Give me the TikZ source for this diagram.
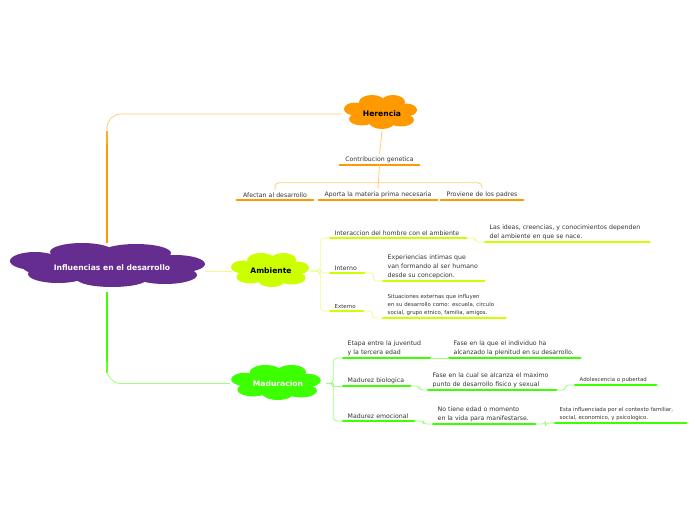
\documentclass[tikz,border=0pt]{standalone}
\usepackage{fontspec}
\setmainfont{DejaVu Sans}
\definecolor{rootcol}{HTML}{662D91}
\definecolor{hercol}{HTML}{FF9900}
\definecolor{herline}{HTML}{FFCC77}
\definecolor{ambcol}{HTML}{CCFF00}
\definecolor{ambline}{HTML}{E8FF8C}
\definecolor{madcol}{HTML}{3CFF00}
\definecolor{madline}{HTML}{9CFF80}
\definecolor{txt}{HTML}{333333}
% flower shaped cloud: center, width, height, colour
\newcommand\puffcloud[4]{%
  \begin{scope}[shift={#1},x=#2pt,y=-#3pt]
    \foreach \px/\py/\rx/\ry in {0/0/0.4/0.32,-0.113/-0.294/0.173/0.206,0.167/-0.294/0.16/0.206,
      -0.34/-0.088/0.147/0.19,0.34/-0.06/0.147/0.19,-0.247/0.206/0.173/0.19,
      0.02/0.294/0.173/0.206,0.273/0.235/0.173/0.19}
      \fill [#4] (\px,\py) ellipse [x radius=\rx,y radius=\ry];
  \end{scope}}
\begin{document}
\begin{tikzpicture}[x=1pt,y=-1pt,line join=bevel,
  bubble/.style={inner sep=0pt,font=\fontsize{7.6}{9}\selectfont\bfseries},
  topic/.style={anchor=south west,align=left,inner xsep=4.5pt,inner ysep=2.5pt,text=txt,
    font=\fontsize{6.2}{9}\selectfont,
    append after command={(\tikzlastnode.south west) edge[line width=2.6pt,line cap=round,draw=#1] (\tikzlastnode.south east)}},
  ctopic/.style={topic=#1,anchor=south,align=center},
  small/.style={font=\fontsize{5.4}{8}\selectfont},
  link/.style={draw=#1,line width=0.8pt,rounded corners=4pt},
]
\useasboundingbox (0,0) rectangle (696,520);
%%
\foreach \px/\py/\rx/\ry in {107/266/85/16,35/261/25/9,82/252/32/9,136/253/35/9,
  175/264/30/9,58/274/30/9,112/279/35/8,165/275/32/9}
  \fill [rootcol] (\px,\py) ellipse [x radius=\rx pt,y radius=\ry pt];
\puffcloud{(380.5,112)}{75}{34}{hercol}
\puffcloud{(270,270)}{80}{34}{ambcol}
\puffcloud{(276,382.5)}{92}{35}{madcol}
%
\node (node_root) at (107,267.5) [bubble,text=white,minimum width=196,minimum height=48] {\hspace*{10pt}Influencias en el desarrollo};
  \node (node_herencia) at (382,114) [bubble,text=black,minimum width=78,minimum height=34] {Herencia};
  \node (node_ambiente) at (271,271) [bubble,text=black,minimum width=78,minimum height=34] {Ambiente};
  \node (node_maduracion) at (278,383.5) [bubble,text=white,minimum width=96,minimum height=35] {Maduracion};
%
\node (node_contrib) at (379.5,165) [ctopic=hercol,text width=70] {Contribucion genetica};
  \node (node_afectan) at (275,200) [ctopic=hercol,text width=67] {Afectan al desarrollo};
  \node (node_aporta) at (378,200) [ctopic=hercol,text width=109] {Aporta la materia prima necesaria};
  \node (node_proviene) at (482,200) [ctopic=hercol,text width=73] {Proviene de los padres};
%
\node (node_interaccion) at (330,238) [topic=ambcol,text width=127] {Interaccion del hombre con el ambiente};
  \node (node_ideas) at (485,242) [topic=ambcol,text width=155] {Las ideas, creencias, y conocimientos dependen\\del ambiente en que se nace.};
  \node (node_interno) at (330,273) [topic=ambcol,text width=25] {Interno};
  \node (node_experiencias) at (383,281) [topic=ambcol,text width=92] {Experiencias intimas que\\van formando al ser humano\\desde su concepcion.};
  \node (node_externo) at (330,311) [topic=ambcol,small,text width=24] {Externo};
  \node (node_situaciones) at (383,318) [topic=ambcol,small,text width=113] {Situaciones externas que influyen\\en su desarrollo como: escuela, circulo\\social, grupo etnico, familia, amigos.};
%
\node (node_etapa) at (343,358) [topic=madcol,text width=78] {Etapa entre la juventud\\y la tercera edad};
  \node (node_plenitud) at (449,358) [topic=madcol,text width=122] {Fase en la que el individuo ha\\alcanzado la plenitud en su desarrollo.};
  \node (node_biologica) at (343,386) [topic=madcol,text width=58] {Madurez biologica};
  \node (node_maximo) at (428,390) [topic=madcol,text width=119] {Fase en la cual se alcanza el maximo\\punto de desarrollo fisico y sexual};
  \node (node_adolescencia) at (575,385) [topic=madcol,small,text width=72] {Adolescencia o pubertad};
  \node (node_emocional) at (343,421) [topic=madcol,text width=62] {Madurez emocional};
  \node (node_notiene) at (433,424) [topic=madcol,text width=93] {No tiene edad o momento\\en la vida para manifestarse.};
  \node (node_contexto) at (555,423) [topic=madcol,small,text width=122] {Esta influenciada por el contexto familiar,\\social, economico, y psicologico.};
%
\draw [hercol,line width=2.6pt] (node_root.north) -- ++(0,-112);
  \draw [link=herline,rounded corners=14pt] (node_root.north) ++(0,-100) |- (node_herencia.west);
  \draw [madcol,line width=2.6pt] (node_root.south) -- ++(0,81);
  \draw [link=madline,rounded corners=14pt] (node_root.south) ++(0,70) |- (node_maduracion.west);
  \draw [link=ambline] (node_ambiente.west) -- (node_ambiente.west -| node_root.east);
%
\draw [link=herline] (node_herencia.south) -- (node_contrib.north);
  \draw [link=herline,sharp corners] (node_contrib.south) -- (node_aporta.north);
  \draw [link=herline] (node_afectan.north) -- ++(0,-7) -| (node_proviene.north);
%
\draw [link=ambline] (node_ambiente.east) -- ++(10,0) |- (node_interaccion.south west);
  \draw [link=ambline] (node_ambiente.east) -- ++(10,0) |- (node_interno.south west);
  \draw [link=ambline] (node_ambiente.east) -- ++(10,0) |- (node_externo.south west);
  \draw [link=ambline,rounded corners=3pt] (node_interaccion.south east) -- ++(9,0) |- (node_ideas.south west);
  \draw [link=ambline,rounded corners=3pt] (node_interno.south east) -- ++(9,0) |- (node_experiencias.south west);
  \draw [link=ambline,rounded corners=3pt] (node_externo.south east) -- ++(9,0) |- (node_situaciones.south west);
%
\draw [link=madline] (node_maduracion.east) -- ++(7,0) |- (node_etapa.south west);
  \draw [link=madline,sharp corners] (node_maduracion.east) -- ++(7,0) |- (node_biologica.south west);
  \draw [link=madline] (node_maduracion.east) -- ++(7,0) |- (node_emocional.south west);
  \draw [link=madline] (node_etapa.south east) -- (node_plenitud.south west);
  \draw [link=madline,rounded corners=3pt] (node_biologica.south east) -- ++(9,0) |- (node_maximo.south west);
  \draw [link=madline,rounded corners=3pt] (node_maximo.south east) -- ++(9,0) |- (node_adolescencia.south west);
  \draw [link=madline,rounded corners=3pt] (node_emocional.south east) -- ++(9,0) |- (node_notiene.south west);
  \draw [link=madline,rounded corners=3pt] (node_notiene.south east) -- ++(10,0) |- (node_contexto.south west);
%
\end{tikzpicture}
\end{document}
